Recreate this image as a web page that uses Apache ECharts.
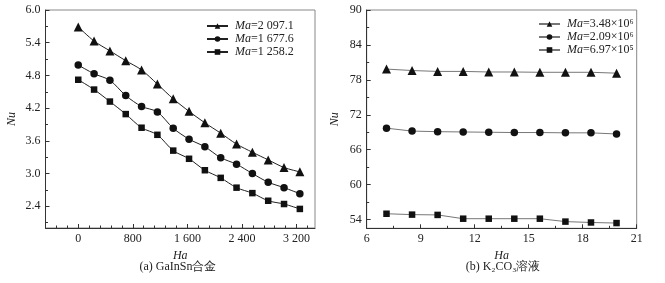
<!DOCTYPE html>
<html>
<head>
<meta charset="utf-8">
<style>
  html, body { margin: 0; padding: 0; background: #fff; }
  #chart { width: 665px; height: 283px; }
</style>
<script src="https://cdn.jsdelivr.net/npm/echarts@6/dist/echarts.min.js"></script>
</head>
<body>
<div id="chart"></div>
<script>
// (a) GaInSn 合金
const haA = [0, 232, 464, 696, 928, 1160, 1392, 1624, 1856, 2088, 2320, 2552, 2784, 3016, 3248]
const namesA = ['Ma=2 097.1', 'Ma=1 677.6', 'Ma=1 258.2']
const nuA1 = [5.69, 5.43, 5.25, 5.07, 4.90, 4.64, 4.37, 4.14, 3.93, 3.74, 3.54, 3.39, 3.25, 3.11, 3.03]
const nuA2 = [4.99, 4.83, 4.71, 4.43, 4.23, 4.13, 3.83, 3.63, 3.49, 3.29, 3.17, 3.00, 2.84, 2.74, 2.63]
const nuA3 = [4.72, 4.54, 4.32, 4.09, 3.84, 3.71, 3.42, 3.27, 3.06, 2.92, 2.74, 2.64, 2.50, 2.44, 2.35]
const xTicksA = [0, 800, 1600, 2400, 3200]
const yTicksA = [2.4, 3.0, 3.6, 4.2, 4.8, 5.4, 6.0]

// (b) K2CO3 溶液
const haB = [7.1, 8.52, 9.94, 11.36, 12.78, 14.2, 15.62, 17.04, 18.46, 19.88]
const namesB = ['Ma=3.48×10⁶', 'Ma=2.09×10⁶', 'Ma=6.97×10⁵']
const nuB1 = [79.85, 79.6, 79.45, 79.45, 79.35, 79.35, 79.3, 79.3, 79.3, 79.15]
const nuB2 = [69.7, 69.2, 69.1, 69.05, 69.0, 68.95, 68.95, 68.9, 68.9, 68.7]
const nuB3 = [55.0, 54.85, 54.8, 54.15, 54.15, 54.15, 54.15, 53.65, 53.5, 53.4]
const xTicksB = [6, 9, 12, 15, 18, 21]
const yTicksB = [54, 60, 66, 72, 78, 84, 90]

const FONT = 'Liberation Serif, Times New Roman, serif'
const TXT = '#222'
const symbols = ['triangle', 'circle', 'rect']
const symSizes = [9, 7.5, 6.5]

// 次刻度：主刻度之间
const minorA_x = []
for (let v = -320; v <= 3360; v += 160) if (v % 800 !== 0) minorA_x.push(v)
const minorA_y = yTicksA.slice(0, -1).map(v => +(v - 0.3).toFixed(1)).concat([5.7])
const minorB_x = xTicksB.slice(0, -1).map(v => v + 1.5)
const minorB_y = yTicksB.slice(0, -1).map(v => v + 3)

const fmtThousands = v => {
  const s = String(v)
  return s.length > 3 ? s.slice(0, -3) + ' ' + s.slice(-3) : s
}

const mainAxis = (gridIndex, min, max, labels, fmt, extra) => Object.assign({
  type: 'value',
  gridIndex,
  min,
  max,
  axisLine: { show: true, onZero: false, lineStyle: { color: '#333', width: 1 } },
  axisTick: { show: true, inside: true, length: 4, customValues: labels, lineStyle: { color: '#333' } },
  axisLabel: { show: true, customValues: labels, formatter: fmt, fontFamily: FONT, fontSize: 12, color: TXT, margin: 5 },
  splitLine: { show: false }
}, extra)

const minorAxis = (gridIndex, min, max, ticks, position) => ({
  type: 'value',
  gridIndex,
  min,
  max,
  position,
  axisLine: { show: false, onZero: false },
  axisTick: { show: true, inside: true, length: 2.5, customValues: ticks, lineStyle: { color: '#333' } },
  axisLabel: { show: false },
  splitLine: { show: false }
})

const nameStyle = { fontFamily: FONT, fontSize: 12, fontStyle: 'italic', color: TXT }

const mkSeries = (name, xs, ys, i, xIdx, yIdx, smooth, lineColor) => ({
  name,
  type: 'line',
  xAxisIndex: xIdx,
  yAxisIndex: yIdx,
  data: xs.map((x, k) => [x, ys[k]]),
  smooth,
  symbol: symbols[i],
  symbolSize: symSizes[i],
  itemStyle: { color: '#111' },
  lineStyle: { color: lineColor, width: 1 },
  emphasis: { disabled: true }
})

const legendFmt = name => '{i|Ma}{n|' + name.slice(2) + '}'
const legendRich = {
  i: { fontFamily: FONT, fontSize: 12, fontStyle: 'italic', color: TXT },
  n: { fontFamily: FONT, fontSize: 12, color: TXT }
}

const chart = echarts.init(document.getElementById('chart'))

const option = {
  animation: false,
  backgroundColor: '#fff',
  grid: [
    { left: 45.5, top: 10, width: 269.5, height: 218, show: true, borderColor: '#888', borderWidth: 1 },
    { left: 366.7, top: 10, width: 270, height: 218.3, show: true, borderColor: '#888', borderWidth: 1 }
  ],
  xAxis: [
    mainAxis(0, -480, 3470, xTicksA, fmtThousands, {
      position: 'bottom', name: 'Ha', nameLocation: 'middle', nameGap: 19, nameTextStyle: nameStyle
    }),
    minorAxis(0, -480, 3470, minorA_x, 'bottom'),
    mainAxis(1, 6, 21, xTicksB, v => String(v), {
      position: 'bottom', name: 'Ha', nameLocation: 'middle', nameGap: 19, nameTextStyle: nameStyle
    }),
    minorAxis(1, 6, 21, minorB_x, 'bottom')
  ],
  yAxis: [
    mainAxis(0, 2.0, 6.0, yTicksA, v => v.toFixed(1), {
      position: 'left', name: 'Nu', nameLocation: 'middle', nameGap: 28, nameTextStyle: nameStyle
    }),
    minorAxis(0, 2.0, 6.0, minorA_y, 'left'),
    mainAxis(1, 52.5, 90, yTicksB, v => String(v), {
      position: 'left', name: 'Nu', nameLocation: 'middle', nameGap: 26, nameTextStyle: nameStyle
    }),
    minorAxis(1, 52.5, 90, minorB_y, 'left')
  ],
  legend: [
    {
      data: namesA, orient: 'vertical', left: 201, top: 15, itemWidth: 21, itemHeight: 7, itemGap: 1,
      selectedMode: false, formatter: legendFmt, textStyle: { rich: legendRich, padding: [0, 0, 0, 2] }
    },
    {
      data: namesB, orient: 'vertical', left: 533, top: 13, itemWidth: 21, itemHeight: 7, itemGap: 1,
      selectedMode: false, formatter: legendFmt, textStyle: { rich: legendRich, padding: [0, 0, 0, 2] }
    }
  ],
  graphic: [
    { type: 'text', x: 178, y: 267, style: { text: '(a) GaInSn合金', font: '12px ' + FONT, fill: TXT, align: 'center', verticalAlign: 'middle' } },
    { type: 'text', x: 503, y: 267, style: { text: '(b) K₂CO₃溶液', font: '12px ' + FONT, fill: TXT, align: 'center', verticalAlign: 'middle' } }
  ],
  series: [
    mkSeries(namesA[0], haA, nuA1, 0, 0, 0, 0.3, '#222'),
    mkSeries(namesA[1], haA, nuA2, 1, 0, 0, 0.3, '#222'),
    mkSeries(namesA[2], haA, nuA3, 2, 0, 0, 0.3, '#222'),
    mkSeries(namesB[0], haB, nuB1, 0, 2, 2, false, '#777'),
    mkSeries(namesB[1], haB, nuB2, 1, 2, 2, false, '#777'),
    mkSeries(namesB[2], haB, nuB3, 2, 2, 2, false, '#777')
  ]
}

chart.setOption(option)
</script>
</body>
</html>
